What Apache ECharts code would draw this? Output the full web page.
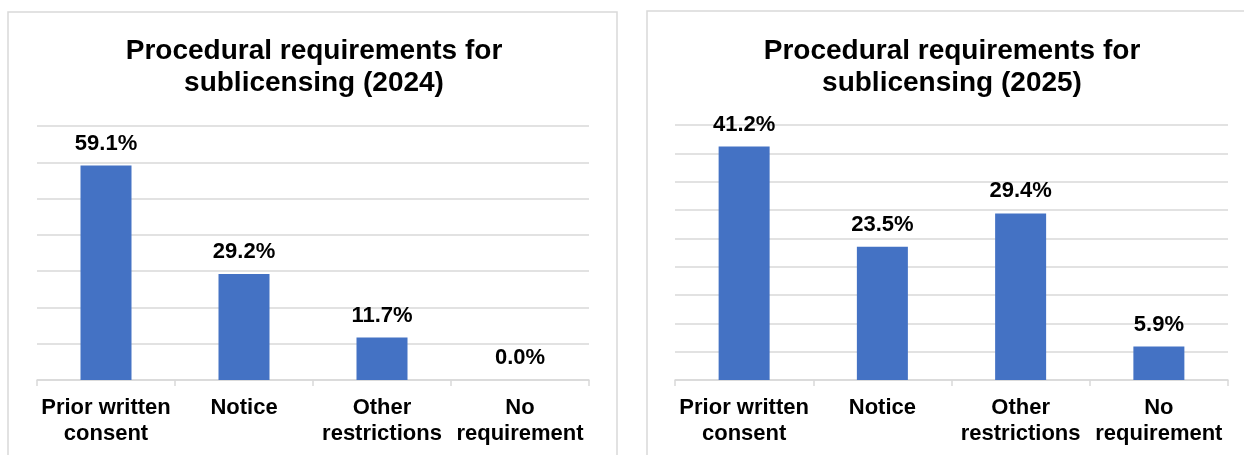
<!DOCTYPE html>
<html>
<head>
<meta charset="utf-8">
<script src="https://cdn.jsdelivr.net/npm/echarts@6/dist/echarts.min.js"></script>
<style>
html,body{margin:0;padding:0;background:#fff;}
#chart{width:1244px;height:455px;}
</style>
</head>
<body>
<div id="chart"></div>
<script>
var categories = ['Prior written\nconsent', 'Notice', 'Other\nrestrictions', 'No\nrequirement'];
var values2024 = [59.1, 29.2, 11.7, 0.0];
var values2025 = [41.2, 23.5, 29.4, 5.9];
var title2024 = 'Procedural requirements for\nsublicensing (2024)';
var title2025 = 'Procedural requirements for\nsublicensing (2025)';
var yMax2024 = 70, yStep2024 = 10;
var yMax2025 = 45, yStep2025 = 5;

var FONT = '"Liberation Sans", Arial, sans-serif';
var GRAY = '#d9d9d9';
var BAR = '#4472C4';

function xAxisCfg(gi) {
  return {
    type: 'category', gridIndex: gi, data: categories,
    axisLine: {lineStyle: {color: GRAY, width: 1.5}},
    axisTick: {show: true, length: 6, lineStyle: {color: GRAY, width: 1.5}},
    axisLabel: {interval: 0, color: '#000', fontFamily: FONT, fontWeight: 'bold', fontSize: 22, lineHeight: 26, margin: 15}
  };
}
function yAxisCfg(gi, max, step) {
  return {
    type: 'value', gridIndex: gi, min: 0, max: max, interval: step,
    axisLine: {show: false}, axisTick: {show: false}, axisLabel: {show: false},
    splitLine: {lineStyle: {color: GRAY, width: 1.5}}
  };
}
function seriesCfg(gi, vals) {
  return {
    type: 'bar', xAxisIndex: gi, yAxisIndex: gi, data: vals, barWidth: 51,
    itemStyle: {color: BAR},
    label: {show: true, position: 'top', distance: 11, color: '#000', fontFamily: FONT, fontWeight: 'bold', fontSize: 22,
      formatter: function (p) { return p.value.toFixed(1) + '%'; }},
    silent: true
  };
}

var chart = echarts.init(document.getElementById('chart'), null, {renderer: 'canvas'});
chart.setOption({
  animation: false,
  backgroundColor: '#fff',
  graphic: [
    {type: 'rect', shape: {x: 8, y: 12, width: 609, height: 460}, style: {fill: 'none', stroke: GRAY, lineWidth: 1.5}, z: -1},
    {type: 'rect', shape: {x: 647, y: 11, width: 620, height: 460}, style: {fill: 'none', stroke: GRAY, lineWidth: 1.5}, z: -1}
  ],
  title: [
    {text: title2024, left: 309, top: 30, textAlign: 'center',
     textStyle: {fontFamily: FONT, fontWeight: 'bold', fontSize: 28, lineHeight: 32, color: '#000'}},
    {text: title2025, left: 947, top: 30, textAlign: 'center',
     textStyle: {fontFamily: FONT, fontWeight: 'bold', fontSize: 28, lineHeight: 32, color: '#000'}}
  ],
  grid: [
    {left: 37, top: 126, width: 552, height: 254},
    {left: 675, top: 125, width: 553, height: 255}
  ],
  xAxis: [xAxisCfg(0), xAxisCfg(1)],
  yAxis: [yAxisCfg(0, yMax2024, yStep2024), yAxisCfg(1, yMax2025, yStep2025)],
  series: [seriesCfg(0, values2024), seriesCfg(1, values2025)]
});
</script>
</body>
</html>
